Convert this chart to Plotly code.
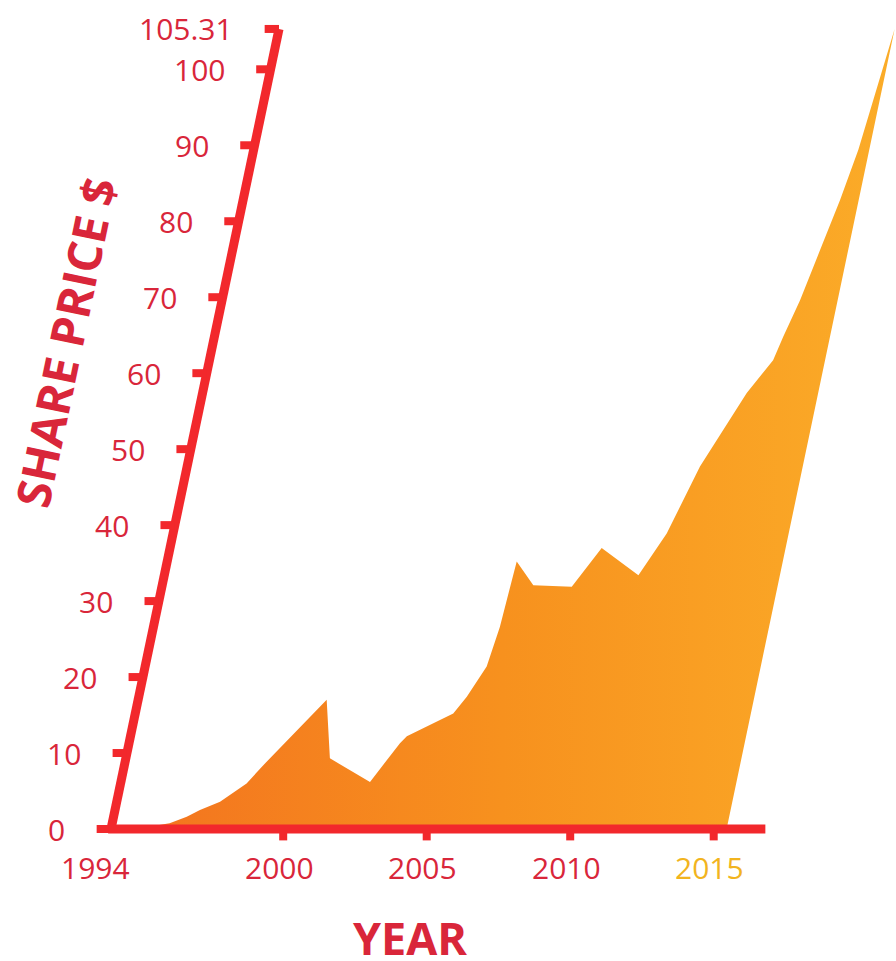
import math
import plotly.graph_objects as go

# Share price history: year (fractional) and price in $
years = [1994.0, 1995.0, 1996.0, 1996.55, 1996.96, 1997.6, 1998.39, 1998.84,
         2000.57, 2001.11, 2002.68, 2003.44, 2003.63, 2005.08, 2005.43, 2005.90,
         2006.07, 2006.18, 2006.93, 2008.28, 2009.04, 2010.52, 2011.20, 2011.87,
         2012.96, 2013.64, 2013.82, 2014.14, 2014.47, 2014.80, 2015.07, 2015.23,
         2015.45]
prices = [0.0, 0.1, 0.75, 1.6, 2.5, 3.6, 6.0, 8.4,
          17.0, 9.3, 6.2, 11.3, 12.2, 15.2, 17.4, 21.4,
          26.6, 35.2, 32.1, 31.9, 37.0, 33.4, 38.9, 47.7,
          57.4, 61.7, 64.8, 69.6, 76.2, 82.8, 89.4, 96.0,
          105.31]

price_ticks = [0, 10, 20, 30, 40, 50, 60, 70, 80, 90, 100, 105.31]
price_tick_labels = ["0", "10", "20", "30", "40", "50", "60", "70", "80", "90", "100", "105.31"]
year_ticks = [1994, 2000, 2005, 2010, 2015]
year_tick_labels = ["1994", "2000", "2005", "2010", "2015"]

# ---- drawing scale and style ----
W, H = 896, 961
PX_PER_YEAR = 28.7
PX_PER_DOLLAR = 7.597
ORIGIN_PX = (111, 829)          # pixel position of (1994, $0)
SLANT = 0.21                    # horizontal lean per unit of height
LEAN = SLANT * PX_PER_DOLLAR / PX_PER_YEAR   # years of lean per dollar

AXIS_RED = "#f2282c"
LABEL_RED = "#d9263a"
GOLD = "#f2b41e"
LABEL_FONT = "Open Sans, sans-serif"
TITLE_FONT = "Open Sans, sans-serif"

base_year = year_ticks[0]
top_price = price_ticks[-1]
end_year = years[-1]


def lean(year, price):
    """Shift a point sideways so the chart leans like its slanted price axis."""
    return year + LEAN * price


x_range = [base_year - ORIGIN_PX[0] / PX_PER_YEAR,
           base_year + (W - ORIGIN_PX[0]) / PX_PER_YEAR]
y_range = [-(H - ORIGIN_PX[1]) / PX_PER_DOLLAR, ORIGIN_PX[1] / PX_PER_DOLLAR]

fig = go.Figure()

# filled price area, closed back down along the slant to $0
area_x = [lean(y, p) for y, p in zip(years, prices)] + [lean(end_year, 0)]
area_y = prices + [0]
fig.add_trace(go.Scatter(
    x=area_x, y=area_y, mode="lines", fill="toself",
    line=dict(width=0, color="#f7931e"),
    fillgradient=dict(type="horizontal",
                      colorscale=[[0, "#f3721f"], [0.5, "#f7911e"], [1, "#fbac28"]]),
    hoverinfo="skip", cliponaxis=False,
))

# slanted price axis with tick stubs
tick_len = 0.5
ax_x, ax_y = [], []
for t in price_ticks:
    ax_x += [lean(base_year, t) - tick_len, lean(base_year, t), None]
    ax_y += [t, t, None]
fig.add_trace(go.Scatter(
    x=[lean(base_year, 0), lean(base_year, top_price)], y=[0, top_price],
    mode="lines", line=dict(color=AXIS_RED, width=9), hoverinfo="skip", cliponaxis=False,
))
fig.add_trace(go.Scatter(
    x=ax_x, y=ax_y, mode="lines", line=dict(color=AXIS_RED, width=8),
    hoverinfo="skip", cliponaxis=False,
))

# year axis with tick stubs below it
fig.add_trace(go.Scatter(
    x=[base_year - 0.1, 2016.8], y=[0, 0], mode="lines",
    line=dict(color=AXIS_RED, width=9), hoverinfo="skip", cliponaxis=False,
))
yt_x, yt_y = [], []
for yr in year_ticks[1:]:
    yt_x += [yr, yr, None]
    yt_y += [0, -1.5, None]
fig.add_trace(go.Scatter(
    x=yt_x, y=yt_y, mode="lines", line=dict(color=AXIS_RED, width=8),
    hoverinfo="skip", cliponaxis=False,
))

annotations = []
for t, lab in zip(price_ticks, price_tick_labels):
    annotations.append(dict(
        x=lean(base_year, t), y=t, text=lab, showarrow=False,
        xanchor="right", yanchor="middle", xshift=-44,
        font=dict(family=LABEL_FONT, size=30, color=LABEL_RED),
    ))
for yr, lab in zip(year_ticks, year_tick_labels):
    annotations.append(dict(
        x=yr, y=0, text=lab, showarrow=False,
        xanchor="center", yanchor="middle", yshift=-38,
        xshift=-16 if yr == base_year else -4,
        font=dict(family=LABEL_FONT, size=30, color=GOLD if yr == 2015 else LABEL_RED),
    ))

# axis titles
annotations.append(dict(
    x=base_year - 46 / PX_PER_YEAR, y=64, text="<b>SHARE PRICE $</b>", showarrow=False,
    xanchor="center", yanchor="middle",
    textangle=-(90 - math.degrees(math.atan(SLANT))),
    font=dict(family=TITLE_FONT, size=47, color=LABEL_RED),
))
annotations.append(dict(
    x=2004.42, y=-14.3, text="<b>YEAR</b>", showarrow=False,
    xanchor="center", yanchor="middle",
    font=dict(family=TITLE_FONT, size=45, color=LABEL_RED),
))

fig.update_layout(
    width=W, height=H, autosize=False,
    margin=dict(l=0, r=0, t=0, b=0),
    paper_bgcolor="white", plot_bgcolor="white",
    showlegend=False,
    xaxis=dict(range=x_range, visible=False, fixedrange=True),
    yaxis=dict(range=y_range, visible=False, fixedrange=True),
    annotations=annotations,
)

fig.write_html("out.html")
